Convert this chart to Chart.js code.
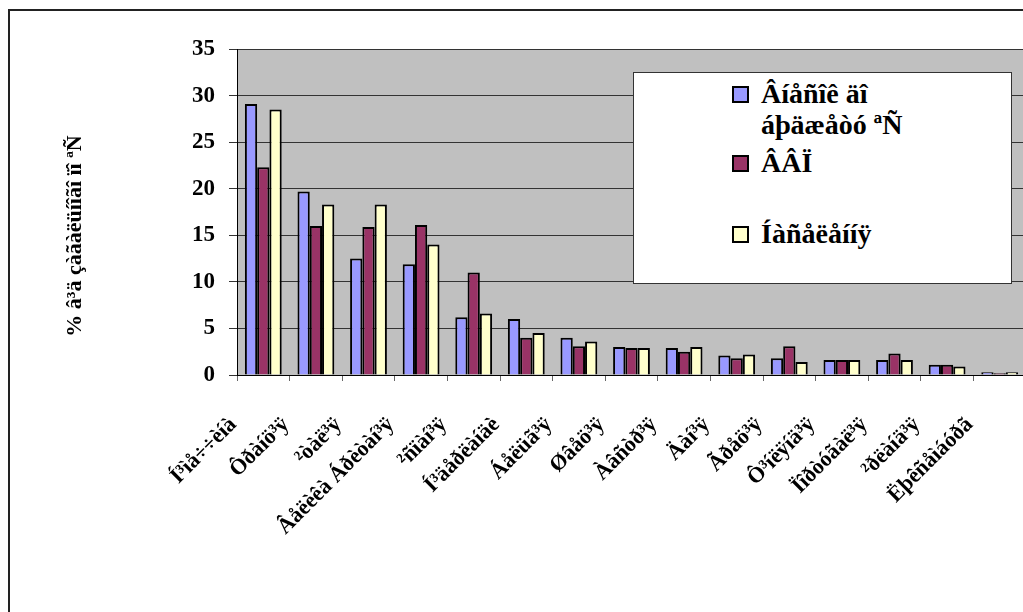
<!DOCTYPE html>
<html>
<head>
<meta charset="utf-8">
<script src="https://cdn.jsdelivr.net/npm/chart.js@4"></script>
<style>
  html, body { margin: 0; padding: 0; background: #fff; overflow: hidden; width: 1023px; height: 612px; }
  #frame { position: absolute; left: 8px; top: 9px; width: 1100px; height: 700px; border: 2px solid #222; }
  #chart { position: absolute; left: 0; top: 0; }
  #legend { position: absolute; left: 633px; top: 72px; width: 377px; height: 210px; background: #fff;
            border: 1px solid #333; font: bold 28px "Liberation Serif", serif; color: #000; }
  .item { position: absolute; left: 127px; line-height: 31px; white-space: nowrap; }
  .sw { position: absolute; left: -29px; width: 13px; height: 13px; border: 2px solid #000; }
</style>
</head>
<body>
<div id="frame"></div>
<canvas id="chart" width="1030" height="612"></canvas>
<div id="legend"></div>
<script>
// частки країн ЄС (%)
var categories = ['Í³ìå÷÷èíà', 'Ôðàíö³ÿ', '²òàë³ÿ', 'Âåëèêà Áðèòàí³ÿ', '²ñïàí³ÿ', 'Í³äåðëàíäè',
  'Áåëüã³ÿ', 'Øâåö³ÿ', 'Àâñòð³ÿ', 'Äàí³ÿ', 'Ãðåö³ÿ', 'Ô³íëÿíä³ÿ', 'Ïîðòóãàë³ÿ', '²ðëàíä³ÿ', 'Ëþêñåìáóðã'];
var seriesNames = [['Âíåñîê äî', 'áþäæåòó ªÑ'], ['ÂÂÏ'], ['Íàñåëåííÿ']];
var budget = [29.1, 19.7, 12.5, 11.9, 6.2, 6.0, 4.0, 3.0, 2.9, 2.1, 1.8, 1.6, 1.6, 1.1, 0.3];
var gdp = [22.3, 16.0, 15.9, 16.1, 11.0, 4.0, 3.1, 2.9, 2.5, 1.8, 3.1, 1.6, 2.3, 1.1, 0.2];
var population = [28.5, 18.3, 18.3, 14.0, 6.6, 4.5, 3.6, 2.9, 3.0, 2.2, 1.4, 1.6, 1.6, 0.9, 0.3];
var yTicks = [0, 5, 10, 15, 20, 25, 30, 35];
var yTitle = '% â³ä çàãàëüíîãî ïî ªÑ';

var colors = ['#9999ff', '#993366', '#ffffcc'];
var values = [budget, gdp, population];
var serif = '"Liberation Serif", "Times New Roman", serif';

// сірий фон області побудови
var plotBg = {
  id: 'plotBg',
  beforeDraw: function (chart) {
    var a = chart.chartArea, c = chart.ctx;
    c.save();
    c.fillStyle = '#c0c0c0';
    c.fillRect(a.left, a.top, a.right - a.left, a.bottom - a.top);
    c.restore();
  }
};

// підпис осі Y стоїть нижче центру, як в Excel — малюємо сами
var yTitlePlugin = {
  id: 'yTitle',
  afterDraw: function (chart) {
    var c = chart.ctx;
    c.save();
    c.translate(75, 236);
    c.rotate(-Math.PI / 2);
    c.font = 'bold 22px ' + serif;
    c.fillStyle = '#000';
    c.textAlign = 'center';
    c.textBaseline = 'middle';
    c.fillText(yTitle, 0, 0);
    c.restore();
  }
};

new Chart(document.getElementById('chart'), {
  type: 'bar',
  data: {
    labels: categories,
    datasets: values.map(function (v, i) {
      return {
        label: seriesNames[i].join(' '),
        data: v,
        backgroundColor: colors[i],
        borderColor: '#000',
        borderWidth: 2,
        categoryPercentage: 0.7,
        barPercentage: 1.0
      };
    })
  },
  options: {
    responsive: false,
    animation: false,
    layout: { padding: { top: 49, left: 0, right: 4, bottom: 0 } },
    plugins: { legend: { display: false }, tooltip: { enabled: false } },
    scales: {
      x: {
        afterFit: function (s) { s.height = 237; s.paddingLeft = 0; s.paddingRight = 0; },
        grid: { drawOnChartArea: false, drawTicks: true, tickLength: 6, color: '#666' },
        border: { color: '#000', width: 1 },
        ticks: {
          autoSkip: false, maxRotation: 45, minRotation: 45, labelOffset: -30, padding: 31,
          color: '#000', font: { family: serif, size: 22, weight: 'bold' }
        }
      },
      y: {
        min: 0, max: 35,
        afterFit: function (s) { s.width = 237; },
        afterBuildTicks: function (s) { s.ticks = yTicks.map(function (v) { return { value: v }; }); },
        grid: { color: '#333', tickLength: 8, drawTicks: true },
        border: { color: '#000', width: 1 },
        ticks: { padding: 14, color: '#000', font: { family: serif, size: 23, weight: 'bold' } }
      }
    }
  },
  plugins: [plotBg, yTitlePlugin]
});

// легенда у вигляді рамки з підписами в кілька рядків
var tops = [78, 147, 218];
var legend = document.getElementById('legend');
seriesNames.forEach(function (lines, i) {
  var it = document.createElement('div');
  it.className = 'item';
  it.style.top = (tops[i] - 73) + 'px';
  it.innerHTML = '<span class="sw" style="top:8px;background:' + colors[i] + '"></span>' + lines.join('<br>');
  legend.appendChild(it);
});
</script>
</body>
</html>
